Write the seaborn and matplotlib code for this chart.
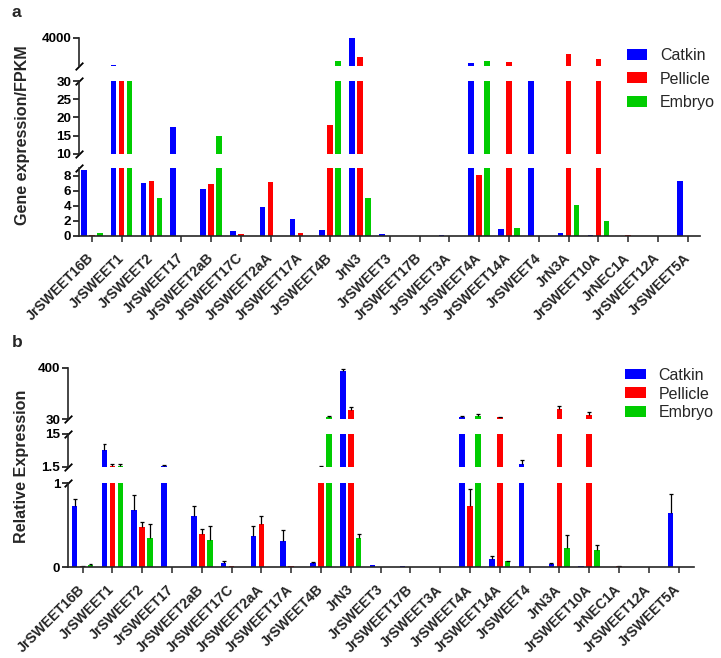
import numpy as np
import pandas as pd
import matplotlib
matplotlib.use('Agg')
import matplotlib.pyplot as plt
import matplotlib.patches as mpatches
import seaborn as sns

# ---------------- data ----------------
genes = ['JrSWEET16B', 'JrSWEET1', 'JrSWEET2', 'JrSWEET17', 'JrSWEET2aB', 'JrSWEET17C',
         'JrSWEET2aA', 'JrSWEET17A', 'JrSWEET4B', 'JrN3', 'JrSWEET3', 'JrSWEET17B',
         'JrSWEET3A', 'JrSWEET4A', 'JrSWEET14A', 'JrSWEET4', 'JrN3A', 'JrSWEET10A',
         'JrNEC1A', 'JrSWEET12A', 'JrSWEET5A']
tissues = ['Catkin', 'Pellicle', 'Embryo']
colors = ['#0000FF', '#FF0000', '#00CC00']

# panel a: FPKM
catkin_fpkm = [8.76, 230, 7.1, 17.4, 6.27, 0.62, 3.82, 2.27, 0.76, 3950, 0.22, 0, 0.1,
               518, 0.84, 60, 0.4, 0.1, 0, 0, 7.33]
pellicle_fpkm = [0.13, 45, 7.24, 0, 6.84, 0.27, 7.2, 0.3, 17.8, 1353, 0, 0, 0,
                 8.1, 657, 0, 1678, 980, 0.1, 0, 0]
embryo_fpkm = [0.3, 45, 5.07, 0, 14.95, 0, 0, 0, 750, 5.1, 0, 0, 0,
               750, 0.98, 0, 4.04, 2.0, 0, 0, 0]

# panel b: relative expression (mean, upper error)
catkin_rel = [0.73, 8.4, 0.68, 1.9, 0.61, 0.05, 0.37, 0.31, 0.056, 378, 0.024, 0.01, 0.008,
              47, 0.10, 2.7, 0.04, 0.012, 0, 0, 0.647]
catkin_err = [0.08, 2.3, 0.18, 0.3, 0.12, 0.03, 0.12, 0.14, 0.011, 15, 0, 0, 0,
              5, 0.04, 1.4, 0.01, 0, 0, 0, 0.22]
pellicle_rel = [0.016, 1.9, 0.484, 0, 0.40, 0.02, 0.51, 0.016, 1.55, 95, 0, 0, 0,
                0.73, 42, 0, 104, 61, 0.012, 0, 0]
pellicle_err = [0.005, 0.7, 0.06, 0, 0.06, 0, 0.1, 0, 0.15, 19, 0, 0, 0,
                0.2, 5, 0, 20, 17, 0.005, 0, 0]
embryo_rel = [0.028, 1.9, 0.35, 0, 0.325, 0, 0, 0, 42, 0.345, 0, 0, 0,
              54, 0.07, 0, 0.234, 0.21, 0, 0, 0]
embryo_err = [0.016, 0.8, 0.17, 0, 0.165, 0, 0, 0, 12, 0.055, 0, 0, 0,
              14, 0.01, 0, 0.146, 0.05, 0, 0, 0]

# axis segments: (ylim, ticks, tick labels)
a_ylims = [(100, 4000), (10, 30), (0, 9)]
a_ticks = [[4000], [10, 15, 20, 25, 30], [0, 2, 4, 6, 8]]
a_ticklabels = [['4000'], ['10', '15', '20', '25', '30'], ['0', '2', '4', '6', '8']]
b_ylims = [(30, 400), (1.5, 15), (0, 1)]
b_ticks = [[30, 400], [1.5, 15], [0, 1]]
b_ticklabels = [['30', '400'], ['1.5', '15'], ['0', '1']]

# ---------------- style ----------------
sns.set_style('ticks')
plt.rcParams['font.family'] = ['Liberation Sans', 'DejaVu Sans']

W, H = 721, 658
fig = plt.figure(figsize=(W / 100, H / 100), dpi=100)


def rect(left, right, top, bottom):
    return [left / W, 1 - bottom / H, (right - left) / W, (bottom - top) / H]


def long_df(a, b, c):
    return pd.DataFrame({
        'gene': np.tile(genes, 3),
        'tissue': np.repeat(tissues, len(genes)),
        'value': np.concatenate([a, b, c]),
    })


df_a = long_df(catkin_fpkm, pellicle_fpkm, embryo_fpkm)
df_b = long_df(catkin_rel, pellicle_rel, embryo_rel)
errs_b = [catkin_err, pellicle_err, embryo_err]

slash = dict(marker=[(-1, -1), (1, 1)], markersize=5.5, linestyle='none',
             color='k', mec='k', mew=1.3, clip_on=False)


def draw_panel(df, left, right, seg_px, ylims, ticks, ticklabels, xlim, errs=None):
    n = len(seg_px)
    for k, ((top, bot), ylim, tk, tl) in enumerate(zip(seg_px, ylims, ticks, ticklabels)):
        ax = fig.add_axes(rect(left, right, top, bot))
        sns.barplot(data=df, x='gene', y='value', hue='tissue', hue_order=tissues,
                    palette=colors, width=0.8, gap=0.3, errorbar=None,
                    saturation=1, linewidth=0, legend=False, ax=ax)
        if errs is not None:
            for cont, e in zip(ax.containers, errs):
                xs, lo, hi, cw = [], [], [], []
                for bar, ev in zip(cont, e):
                    if ev > 0:
                        xs.append(bar.get_x() + bar.get_width() / 2)
                        lo.append(bar.get_height())
                        hi.append(bar.get_height() + ev)
                        cw.append(bar.get_width() * 0.35)
                xs, lo, hi, cw = map(np.asarray, (xs, lo, hi, cw))
                ax.vlines(xs, lo, hi, colors='black', linewidth=0.9)
                ax.hlines(hi, xs - cw, xs + cw, colors='black', linewidth=0.9)
        ax.set_xlim(*xlim)
        ax.set_ylim(*ylim)
        ax.set_yticks(tk)
        ax.set_yticklabels(tl, fontsize=9.7, fontweight='bold')
        ax.set_xlabel('')
        ax.set_ylabel('')
        ax.set_facecolor('none')
        for s in ['top', 'right']:
            ax.spines[s].set_visible(False)
        ax.spines['left'].set_linewidth(1.2)
        ax.spines['bottom'].set_linewidth(1.2)
        ax.tick_params(axis='y', length=4, width=1.1, pad=1.5, colors='black')
        if k < n - 1:
            ax.spines['bottom'].set_visible(False)
            ax.set_xticks([])
            ax.plot([0], [0], transform=ax.transAxes, **slash)
        else:
            ax.set_xticks(range(len(genes)))
            ax.set_xticklabels(genes, rotation=45, ha='right', va='center',
                               rotation_mode='anchor', fontsize=10.1, fontweight='bold')
            ax.tick_params(axis='x', length=4, width=1.1, pad=10.5)
        if k > 0:
            ax.plot([0], [1], transform=ax.transAxes, **slash)


draw_panel(df_a, 79, 700, [(37.7, 65.7), (81, 153.7), (168.3, 235.7)],
           a_ylims, a_ticks, a_ticklabels, (-0.43, 20.41))
draw_panel(df_b, 68, 694, [(367.7, 419), (434, 466.7), (483.3, 567.3)],
           b_ylims, b_ticks, b_ticklabels, (-0.49, 20.52), errs=errs_b)

handles = [mpatches.Patch(facecolor=c, edgecolor='none') for c in colors]
fig.legend(handles, tissues, loc='center left', bbox_to_anchor=(626.7 / W, 1 - 79 / H),
           frameon=False, fontsize=11.5, handlelength=1.29, handleheight=0.67,
           handletextpad=0.8, labelspacing=0.53, borderpad=0, borderaxespad=0)
fig.legend(handles, tissues, loc='center left', bbox_to_anchor=(625 / W, 1 - 394 / H),
           frameon=False, fontsize=11.5, handlelength=1.29, handleheight=0.67,
           handletextpad=0.8, labelspacing=0.24, borderpad=0, borderaxespad=0)

fig.text(23 / W, 1 - 135 / H, 'Gene expression/FPKM', rotation=90, ha='center',
         va='center', fontsize=11.6, fontweight='bold')
fig.text(22 / W, 1 - 466.5 / H, 'Relative Expression', rotation=90, ha='center',
         va='center', fontsize=11.6, fontweight='bold')
fig.text(12 / W, 1 - 17 / H, 'a', fontsize=12.5, fontweight='bold', va='baseline')
fig.text(12 / W, 1 - 347 / H, 'b', fontsize=12.5, fontweight='bold', va='baseline')

fig.savefig('out.png', dpi=100)
